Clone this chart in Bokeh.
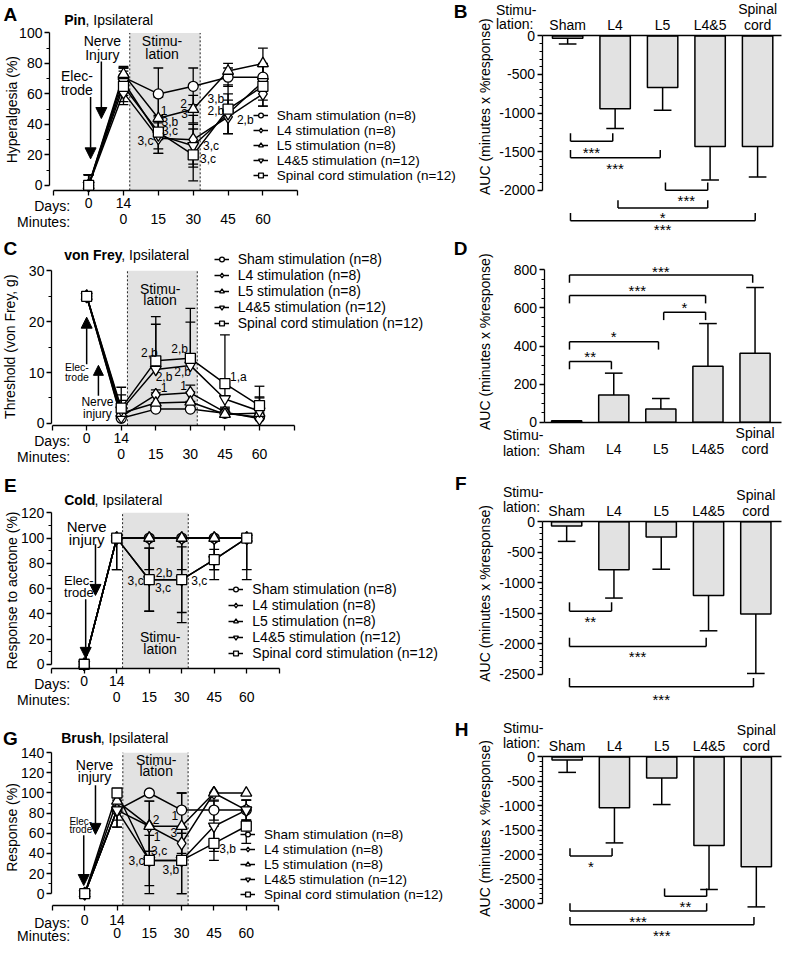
import math
from bokeh.plotting import figure
from bokeh.models import (FixedTicker, Label, Legend, LegendItem, Arrow, NormalHead,
                          LinearAxis, Range1d, Grid)
from bokeh.layouts import column, row
from bokeh.embed import file_html
from bokeh.resources import INLINE

# ---------------------------------------------------------------- data
GROUPS = ["Sham stimulation (n=8)", "L4 stimulation (n=8)", "L5 stimulation (n=8)",
          "L4&5 stimulation (n=12)", "Spinal cord stimulation (n=12)"]
DAYS = ["0", "14"]
MINUTES = ["0", "15", "30", "45", "60"]
CATEGORIES = ["Sham", "L4", "L5", "L4&5", "Spinal cord"]

# time points: day 0, then day 14 at minutes 0, 15, 30, 45, 60
PIN_SHAM = [0, 71, 60, 65, 71, 71]
PIN_L4 = [0, 61, 31, 30, 45, 60]
PIN_L5 = [0, 73, 44, 50, 75, 80]
PIN_L45 = [0, 68, 33, 26, 47, 68]
PIN_SC = [0, 65, 35, 20, 50, 65]
PIN_SHAM_ERR = [7, 6, 17, 12, 6, 8]
PIN_L4_ERR = [7, 8, 10, 16, 11, 8]
PIN_L5_ERR = [7, 5, 14, 9, 5, 10]
PIN_L45_ERR = [7, 9, 12, 14, 13, 12]
PIN_SC_ERR = [7, 10, 11, 17, 16, 13]

VF_SHAM = [25, 1.0, 2.8, 2.8, 2.0, 1.2]
VF_L4 = [25, 1.3, 5.6, 6.0, 2.2, 0.9]
VF_L5 = [25, 2.0, 4.0, 4.2, 1.8, 2.0]
VF_L45 = [25, 2.6, 10.6, 11.4, 4.8, 2.4]
VF_SC = [25, 3.0, 12.3, 12.8, 7.8, 3.5]
VF_SHAM_ERR = [0, 1.0, 1.2, 1.5, 0.8, 1.0]
VF_L4_ERR = [0, 1.5, 1.0, 1.5, 1.0, 1.0]
VF_L5_ERR = [0, 2.5, 2.0, 2.0, 1.2, 3.0]
VF_L45_ERR = [0, 3.0, 8.9, 8.5, 3.0, 2.8]
VF_SC_ERR = [0, 4.1, 8.7, 9.8, 9.6, 3.8]

COLD_SHAM = [0, 100, 100, 100, 100, 100]
COLD_L4 = [0, 100, 100, 100, 100, 100]
COLD_L5 = [0, 100, 100, 100, 100, 100]
COLD_L45 = [0, 100, 67, 67, 83, 100]
COLD_SC = [0, 100, 67, 67, 83, 100]
COLD_SHAM_ERR = [0, 0, 0, 0, 0, 0]
COLD_L4_ERR = [0, 25, 25, 25, 25, 25]
COLD_L5_ERR = [0, 25, 0, 0, 0, 33]
COLD_L45_ERR = [0, 0, 25, 26, 16, 0]
COLD_SC_ERR = [0, 0, 25, 34, 8, 0]

BR_SHAM = [0, 83, 100, 83, 83, 83]
BR_L4 = [0, 83, 67, 50, 100, 83]
BR_L5 = [0, 92, 67, 67, 100, 100]
BR_L45 = [0, 83, 33, 33, 67, 83]
BR_SC = [0, 100, 33, 33, 50, 67]
BR_SHAM_ERR = [0, 10, 0, 17, 10, 10]
BR_L4_ERR = [0, 17, 25, 10, 0, 10]
BR_L5_ERR = [0, 8, 25, 33, 0, 0]
BR_L45_ERR = [0, 17, 25, 33, 25, 10]
BR_SC_ERR = [0, 0, 33, 33, 17, 17]

PIN_AUC = [-30, -945, -670, -1435, -1435]
PIN_AUC_ERR = [76, 255, 295, 433, 395]
VF_AUC = [8, 143, 70, 294, 363]
VF_AUC_ERR = [0, 115, 55, 224, 344]
COLD_AUC = [-70, -790, -253, -1210, -1516]
COLD_AUC_ERR = [253, 463, 527, 580, 974]
BR_AUC = [-60, -1040, -430, -1812, -2248]
BR_AUC_ERR = [255, 718, 543, 899, 819]

PIN_COMP = [(0, 1, "***"), (0, 2, "***"), (2, 3, "***"), (1, 3, "*"), (0, 4, "***")]
VF_COMP = [(0, 1, "**"), (0, 2, "*"), (2, 3, "*"), (0, 3, "***"), (0, 4, "***")]
COLD_COMP = [(0, 1, "**"), (0, 3, "***"), (0, 4, "***")]
BR_COMP = [(0, 1, "*"), (2, 3, "**"), (0, 3, "***"), (0, 4, "***")]

# ---------------------------------------------------------------- style / layout
FONT = "Liberation Sans"
SX = 783 / 799
SY = 946 / 962
FILL = "#e2e2e2"
MARKERS = ["circle", "diamond", "triangle", "inverted_triangle", "square"]
MSIZE = [10, 13, 11, 11, 10]


class Geo:
    """Panel geometry in reference pixels: figure box, axis positions and data mapping."""
    def __init__(self, box, axes, xmap, ymap):
        self.x0, self.y0, self.w, self.h = box
        self.ax_x, self.ax_y = axes          # pixel x of the y-axis, pixel y of the x-axis
        self.xd0, self.xp0, self.xppu = xmap
        self.yd0, self.yp0, self.yppu = ymap

    def dx(self, px):
        return self.xd0 + (px - self.xp0) / self.xppu

    def dy(self, py):
        return self.yd0 + (self.yp0 - py) / self.yppu


def make_fig(g):
    p = figure(width=round(g.w * SX), height=round(g.h * SY),
               x_range=Range1d(g.dx(g.x0), g.dx(g.x0 + g.w)),
               y_range=Range1d(g.dy(g.y0 + g.h), g.dy(g.y0)),
               min_border_left=0, min_border_right=0, min_border_top=0, min_border_bottom=0,
               x_axis_location=None, y_axis_location=None,
               output_backend="svg", toolbar_location=None)
    p.outline_line_color = None
    p.center = [r for r in p.center if not isinstance(r, Grid)]
    return p


def put(p, x, y, text, size=14, align="center", baseline="middle", bold=False, angle=0.0):
    p.add_layout(Label(x=x, y=y, text=text, text_font=FONT, text_font_size=f"{size}px",
                       text_align=align, text_baseline=baseline, text_color="black",
                       text_font_style="bold" if bold else "normal", angle=angle))


def put_px(p, g, px, py, text, **kw):
    put(p, g.dx(px), g.dy(py), text, **kw)


def title(p, g, px, py, bold_part, bold_w, rest=", Ipsilateral"):
    put_px(p, g, px, py, bold_part, align="left", bold=True)
    put_px(p, g, px + bold_w, py, rest, align="left")


def arrow_px(p, g, px, py0, py1, size=11):
    p.add_layout(Arrow(end=NormalHead(size=size, fill_color="black", line_color="black", line_width=1),
                       x_start=g.dx(px), y_start=g.dy(py0), x_end=g.dx(px), y_end=g.dy(py1),
                       line_color="black", line_width=1.5))


def style_axis(ax, lw=1.3):
    ax.axis_line_width = lw
    ax.axis_line_color = "black"
    ax.major_tick_line_width = lw
    ax.major_tick_line_color = "black"
    ax.minor_tick_line_width = 1
    ax.minor_tick_line_color = "black"
    ax.major_tick_in = 0
    ax.major_tick_out = 5
    ax.minor_tick_in = 0
    ax.minor_tick_out = 3
    ax.major_label_text_font = FONT
    ax.major_label_text_font_size = "14px"
    ax.major_label_text_color = "black"
    ax.major_label_standoff = 2


def line_panel(g, series, errs, mode, yticks, yminor, legend_px, legend_font, legend_spacing,
               days_off=(3, 24)):
    p = make_fig(g)
    xs = list(range(len(DAYS) + len(MINUTES) - 1))
    ytop = yticks[-1]
    ybot = g.dy(g.ax_y)
    stim_l, stim_r = 1 + 0.18, 3 + 0.2
    p.quad(left=[stim_l], right=[stim_r], bottom=[ybot], top=[ytop], fill_color=FILL, line_color=None)
    p.segment(x0=[stim_l, stim_r], y0=[ybot, ybot], x1=[stim_l, stim_r], y1=[ytop, ytop],
              line_color="#222222", line_width=1, line_dash="2 2")
    cw = 5.0 / g.xppu
    ex0, ey0, ex1, ey1 = [], [], [], []
    for ys, es in zip(series, errs):
        for xi, yv, ev in zip(xs, ys, es):
            if ev <= 0:
                continue
            hi = yv + ev
            lo = yv if mode == "up" else max(yv - ev, 0)
            if mode == "clip":
                hi = min(hi, 100)
            if hi > lo:
                ex0.append(xi); ey0.append(lo); ex1.append(xi); ey1.append(hi)
            if hi > yv:
                ex0.append(xi - cw); ey0.append(hi); ex1.append(xi + cw); ey1.append(hi)
            if lo < yv:
                ex0.append(xi - cw); ey0.append(lo); ex1.append(xi + cw); ey1.append(lo)
    p.segment(x0=ex0, y0=ey0, x1=ex1, y1=ey1, line_color="black", line_width=1.3)
    lines = [p.line(xs, ys, line_color="black", line_width=1.5) for ys in series]
    dots = [p.scatter(xs, ys, marker=m, size=s, fill_color="white", line_color="black", line_width=1.3)
            for ys, m, s in zip(series, MARKERS, MSIZE)]
    items = [LegendItem(label=n, renderers=[l, d]) for n, l, d in zip(GROUPS, lines, dots)]
    lx, lb = legend_px
    leg = Legend(items=items, location=((lx - g.x0) * SX, (g.y0 + g.h - lb) * SY),
                 background_fill_alpha=0, border_line_color=None, padding=0, margin=0,
                 spacing=legend_spacing, glyph_width=15, glyph_height=12, label_height=12,
                 label_standoff=9, label_text_font=FONT, label_text_font_size=f"{legend_font}px",
                 label_text_color="black")
    p.add_layout(leg)

    yax = LinearAxis(ticker=FixedTicker(ticks=yticks, minor_ticks=yminor), bounds=(0, ytop),
                     fixed_location=g.dx(g.ax_x))
    style_axis(yax)
    p.add_layout(yax, "left")
    tick_pos = list(range(-1, len(xs) + 1))
    days_ax = LinearAxis(ticker=FixedTicker(ticks=tick_pos), bounds=(tick_pos[0], tick_pos[-1]),
                         fixed_location=ybot,
                         major_label_overrides={t: (DAYS[t] if 0 <= t < len(DAYS) else "") for t in tick_pos})
    style_axis(days_ax)
    days_ax.major_label_standoff = days_off[0]
    p.add_layout(days_ax, "below")
    min_ax = LinearAxis(ticker=FixedTicker(ticks=xs[1:]), fixed_location=ybot,
                        major_label_overrides={t: MINUTES[t - 1] for t in xs[1:]})
    style_axis(min_ax)
    min_ax.axis_line_color = None
    min_ax.major_tick_line_color = None
    min_ax.major_tick_out = 0
    min_ax.major_label_standoff = days_off[1]
    p.add_layout(min_ax, "below")
    put_px(p, g, 71, g.ax_y + (5 + days_off[0] + 8) / SY, "Days:", align="right")
    put_px(p, g, 71, g.ax_y + (days_off[1] + 8) / SY, "Minutes:", align="right")
    return p


def bar_panel(g, vals, errs, yticks, yminor, side, ylab_py, stim_px, stim_py):
    p = make_fig(g)
    xs = list(range(len(CATEGORIES)))
    p.vbar(x=xs, bottom=0, top=vals, width=0.64, fill_color=FILL, line_color="black", line_width=1.5)
    cw = 9.0 / g.xppu
    ex0, ey0, ex1, ey1 = [], [], [], []
    for x, v, e in zip(xs, vals, errs):
        if e <= 0:
            continue
        tip = v + e if v >= 0 else v - e
        ex0 += [x, x - cw]; ey0 += [v, tip]; ex1 += [x, x + cw]; ey1 += [tip, tip]
    p.segment(x0=ex0, y0=ey0, x1=ex1, y1=ey1, line_color="black", line_width=1.5)
    if side == "above":
        labels = {x: c.replace(" ", "\n") for x, c in zip(xs, CATEGORIES)}
    else:
        labels = {x: (c.replace(" ", "\n") if " " in c else "\u00a0\n" + c) for x, c in zip(xs, CATEGORIES)}
    cax = LinearAxis(ticker=FixedTicker(ticks=xs), major_label_overrides=labels, fixed_location=0,
                     bounds=(g.dx(g.ax_x), g.dx(g.x0 + g.w - 2)))
    style_axis(cax, 1.5)
    cax.major_tick_out = 0
    cax.major_label_standoff = 3
    cax.major_label_text_line_height = 1.0
    p.add_layout(cax, side)
    yax = LinearAxis(ticker=FixedTicker(ticks=yticks, minor_ticks=yminor),
                     bounds=(min(yticks), max(yticks)), fixed_location=g.dx(g.ax_x),
                     major_label_overrides={t: str(t) for t in yticks})
    style_axis(yax)
    p.add_layout(yax, "left")
    put_px(p, g, 495, ylab_py, "AUC (minutes x %response)", angle=math.pi / 2)
    put_px(p, g, stim_px, stim_py[0], "Stimu-", align="left")
    put_px(p, g, stim_px, stim_py[1], "lation:", align="left")
    return p


def brackets(p, g, comps, line_py, star_py, tick, up, size=15):
    for (i, j, stars), lpy, spy in zip(comps, line_py, star_py):
        y = g.dy(lpy)
        yt = g.dy(lpy - tick) if up else g.dy(lpy + tick)
        a, b = i + 0.06, j - 0.05
        p.segment(x0=[a, a, b], y0=[y, y, y], x1=[b, a, b], y1=[y, yt, yt],
                  line_color="black", line_width=1.5)
        put(p, (i + j) / 2, g.dy(spy + 0.22 * size / SY), stars, size=size)


# geometry of each panel in reference pixels
gA = Geo((0, 0, 480, 243), (50, 193), (0, 90, 35.6), (0, 188, 1.55))
gB = Geo((480, 0, 319, 243), (553, 36), (0, 579, 48.4), (0, 36, 0.0784))
gC = Geo((0, 243, 480, 237), (52, 432), (0, 88, 35.3), (0, 430, 5.17))
gD = Geo((480, 243, 319, 237), (555, 429), (0, 578, 48.0), (0, 429, 0.194))
gE = Geo((0, 480, 480, 240), (52, 679), (0, 85.5, 33.2), (0, 675, 1.283))
gF = Geo((480, 480, 319, 240), (553, 530), (0, 578, 48.2), (0, 530, 0.062))
gG = Geo((0, 720, 480, 242), (52, 920), (0, 86, 33.0), (0, 908.3, 1.024))
gH = Geo((480, 720, 319, 242), (553, 769.3), (0, 578.5, 48.2), (0, 769.3, 0.0497))

# ---------------------------------------------------------------- A: Pin
pA = line_panel(gA, [PIN_SHAM, PIN_L4, PIN_L5, PIN_L45, PIN_SC],
                [PIN_SHAM_ERR, PIN_L4_ERR, PIN_L5_ERR, PIN_L45_ERR, PIN_SC_ERR],
                "both", [0, 20, 40, 60, 80, 100], [10, 30, 50, 70, 90], (258, 186), 13.5, 0)
put_px(pA, gA, 10, 14, "A", size=19, bold=True)
put_px(pA, gA, 470, 11, "B", size=19, bold=True)
title(pA, gA, 65, 20, "Pin", 21.8)
put_px(pA, gA, 12, 111, "Hyperalgesia (%)", angle=math.pi / 2)
arrow_px(pA, gA, 103, 62, 120)
arrow_px(pA, gA, 92, 98, 161)
for t, x, y in [("Nerve", 104, 41), ("Injury", 104, 55), ("Elec-", 78, 77), ("trode", 78, 91),
                ("Stimu-", 165, 41), ("lation", 165, 54)]:
    put_px(pA, gA, x, y, t)
for t, x, y in [("1", 167, 112), ("3,b", 173, 124), ("3,c", 173, 133), ("3,c", 148, 143),
                ("2", 187, 105), ("3", 188, 115), ("3,c", 215, 148), ("3,c", 212, 161),
                ("3,b", 220, 100), ("2,b", 220, 112), ("2,b", 250, 122)]:
    put_px(pA, gA, x, y, t, size=12)

# ---------------------------------------------------------------- B
pB = bar_panel(gB, PIN_AUC, PIN_AUC_ERR, [-2000, -1500, -1000, -500, 0],
               list(range(-1900, 0, 100)), "above", 108, 506, (10, 24))
brackets(pB, gB, PIN_COMP, [143, 160, 193, 211, 224], [151, 167, 200, 217, 229], 8, True)

# ---------------------------------------------------------------- C: von Frey
pC = line_panel(gC, [VF_SHAM, VF_L4, VF_L5, VF_L45, VF_SC],
                [VF_SHAM_ERR, VF_L4_ERR, VF_L5_ERR, VF_L45_ERR, VF_SC_ERR],
                "up", [0, 10, 20, 30], [5, 15, 25], (218, 337), 14, 0)
put_px(pC, gC, 10, 252, "C", size=19, bold=True)
put_px(pC, gC, 470, 252, "D", size=19, bold=True)
title(pC, gC, 65, 259, "von Frey", 58.4)
put_px(pC, gC, 10, 352, "Threshold (von Frey, g)", angle=math.pi / 2)
arrow_px(pC, gC, 88, 370, 322)
arrow_px(pC, gC, 100, 402, 371, size=10)
for t, x, y, s in [("Elec-", 78, 373, 10.5), ("trode", 78, 383, 10.5), ("Nerve", 99, 408, 12),
                   ("injury", 99, 420, 12), ("Stimu-", 163, 293, 14), ("lation", 163, 305, 14)]:
    put_px(pC, gC, x, y, t, size=s)
for t, x, y in [("2,b", 152, 358), ("2,b", 183, 354), ("2,b", 167, 383), ("2,b", 186, 378),
                ("1", 167, 394), ("1", 187, 391), ("1,a", 243, 383)]:
    put_px(pC, gC, x, y, t, size=12)

# ---------------------------------------------------------------- D
pD = bar_panel(gD, VF_AUC, VF_AUC_ERR, [0, 200, 400, 600, 800],
               [v for v in range(50, 800, 50) if v % 200], "below", 347, 513, (442, 458))
brackets(pD, gD, VF_COMP, [367, 347, 317, 300, 279], [359, 338, 309, 292, 272], 8, False)

# ---------------------------------------------------------------- E: Cold
pE = line_panel(gE, [COLD_SHAM, COLD_L4, COLD_L5, COLD_L45, COLD_SC],
                [COLD_SHAM_ERR, COLD_L4_ERR, COLD_L5_ERR, COLD_L45_ERR, COLD_SC_ERR],
                "clip", [0, 20, 40, 60, 80, 100, 120], [10, 30, 50, 70, 90, 110], (233, 672), 14, 0)
put_px(pE, gE, 10, 493, "E", size=19, bold=True)
put_px(pE, gE, 470, 491, "F", size=19, bold=True)
title(pE, gE, 65, 508, "Cold", 31.1)
put_px(pE, gE, 12, 600, "Response to acetone (%)", angle=math.pi / 2)
arrow_px(pE, gE, 97, 553, 605)
arrow_px(pE, gE, 87, 609, 669)
for t, x, y, s in [("Nerve", 88, 535, 15), ("injury", 88, 548, 15), ("Elec-", 80, 590, 13),
                   ("trode", 80, 602, 13), ("Stimu-", 163, 647, 14), ("lation", 163, 659, 14)]:
    put_px(pE, gE, x, y, t, size=s)
for t, x, y in [("3,c", 138, 590), ("2,b", 167, 582), ("3,c", 166, 597), ("3,c", 203, 590)]:
    put_px(pE, gE, x, y, t, size=12)

# ---------------------------------------------------------------- F
pF = bar_panel(gF, COLD_AUC, COLD_AUC_ERR, [-2500, -2000, -1500, -1000, -500, 0],
               list(range(-2400, 0, 100)), "above", 603, 513, (500, 515))
brackets(pF, gF, COLD_COMP, [621, 657, 698], [628, 664, 707], 9, True)

# ---------------------------------------------------------------- G: Brush
pG = line_panel(gG, [BR_SHAM, BR_L4, BR_L5, BR_L45, BR_SC],
                [BR_SHAM_ERR, BR_L4_ERR, BR_L5_ERR, BR_L45_ERR, BR_SC_ERR],
                "clip", [0, 20, 40, 60, 80, 100, 120, 140], [10, 30, 50, 70, 90, 110, 130],
                (245, 917), 13.5, 0, days_off=(5, 23))
put_px(pG, gG, 10, 751, "G", size=19, bold=True)
put_px(pG, gG, 471, 741, "H", size=19, bold=True)
title(pG, gG, 62, 750, "Brush", 40.4)
put_px(pG, gG, 12, 841, "Response (%)", angle=math.pi / 2)
arrow_px(pG, gG, 97, 798, 848)
arrow_px(pG, gG, 85, 849, 900)
for t, x, y, s in [("Nerve", 96, 777, 14), ("injury", 96, 790, 14), ("Elec-", 82, 835, 10),
                   ("trode", 82, 843, 10), ("Stimu-", 159, 772, 14), ("lation", 159, 784, 14)]:
    put_px(pG, gG, x, y, t, size=s)
for t, x, y in [("2", 159, 833), ("1", 160, 850), ("3,c", 162, 865), ("3,c", 139, 875),
                ("1", 178, 829), ("3", 177, 846), ("3,b", 174, 884), ("3,b", 232, 863)]:
    put_px(pG, gG, x, y, t, size=12)

# ---------------------------------------------------------------- H
pH = bar_panel(gH, BR_AUC, BR_AUC_ERR, [-3000, -2500, -2000, -1500, -1000, -500, 0],
               list(range(-2900, 0, 100)), "above", 842, 513, (740, 755))
brackets(pH, gH, BR_COMP, [870, 911, 926, 940], [877, 918, 933, 947], 8, True)

layout = column(row(pA, pB), row(pC, pD), row(pE, pF), row(pG, pH))
open("out.html", "w").write(file_html(layout, INLINE))
